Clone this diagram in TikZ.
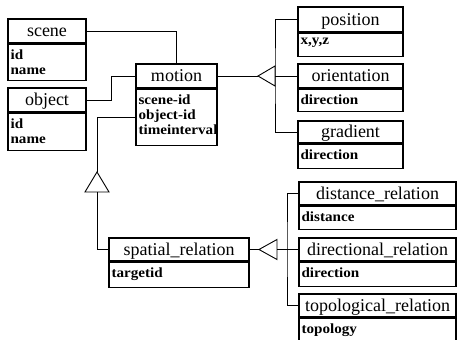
\documentclass[tikz,border=0pt]{standalone}
\usepackage{fontspec}
\setmainfont{Liberation Serif}
\newfontfamily\attrfont{Liberation Serif}[FakeStretch=1.08]
\usetikzlibrary{calc}
\tikzset{
	boxline/.style={line width=1.3pt},
	conn/.style={line width=0.9pt},
	classhead/.style={boxline, draw, inner sep=0pt, text height=12pt, text depth=1pt, font=\fontsize{18}{20}\selectfont},
	classbody/.style={boxline, draw, inner sep=0pt},
	attrtext/.style={inner xsep=3pt, inner ysep=5.5pt, align=left, font=\attrfont\bfseries\fontsize{14}{15}\selectfont}
}
\def\classbox(#1)(#2,#3)(#4,#5)(#6)#7#8{
	\node[classhead, minimum width={#4-#2}, minimum height={#6-#3}] (#1) at ({(#2+#4)/2},{(#3+#6)/2}) {#7};
	\node[classbody, minimum width={#4-#2}, minimum height={#5-#6}, anchor=north] (#1-attr) at (#1.south) {};
	\node[attrtext, anchor=north west] (#1-text) at (#1-attr.north west) {#8};
}

\begin{document}
\begin{tikzpicture}[x=1pt,y=-1pt]
			%%%%% START %%%%%
			\useasboundingbox (0,0) rectangle (458,340);
			\clip (0,0) rectangle (458,340);
			
			\classbox(scene)(8,19)(86,79)(43){scene}{id\\name}
			\classbox(object)(8,88)(86,149)(112){object}{id\\name}
			\classbox(motion)(136,64)(217,144)(88){motion}{scene-id\\object-id\\timeinterval}
			
			\classbox(position)(298,7)(403,55)(32){position}{x,y,z}
			\classbox(orientation)(298,64)(403,110)(88){orientation}{direction}
			\classbox(gradient)(298,121)(403,167)(143){gradient}{direction}
			
			\classbox(spatial)(109,238)(249,286)(261){spatial\_relation}{targetid}
			\classbox(distance)(299,182)(456,228)(205){distance\_relation}{distance}
			\classbox(directional)(299,238)(456,285)(261){directional\_relation}{direction}
			\classbox(topological)(299,294)(456,350)(317){topological\_relation}{topology}
			
			% associations
			\draw[conn] (scene.east) -| (motion.north);
			\draw[conn] (object.east) -- ++(25,0) |- (motion.west);
			
			% motion <- spatial_relation
			\coordinate (tri-a) at (97,172);
			\coordinate (tri-a-base) at (97,192);
			\draw[conn] (motion-attr.west) -| (tri-a);
			\draw[conn] (tri-a) -- (85,192) -- (109,192) -- cycle;
			\draw[conn] (spatial.west) -| (tri-a-base);
			
			% motion <- position, orientation, gradient
			\coordinate (tri-b) at (258,76);
			\coordinate (tri-b-base) at (275,76);
			\draw[conn] (motion.east) -- (tri-b);
			\draw[conn] (tri-b) -- (275,66) -- (275,86) -- cycle;
			\draw[conn] (position.west) -| (tri-b-base) |- (gradient.west);
			\draw[conn] (tri-b-base) -- (orientation.west);
			
			% spatial_relation <- distance, directional, topological
			\coordinate (tri-c) at (259,249.5);
			\coordinate (tri-c-base) at (277,249.5);
			\coordinate (bus-c) at (287,249.5);
			\draw[conn] (spatial.east) -- (tri-c);
			\draw[conn] (tri-c) -- (277,239.5) -- (277,259.5) -- cycle;
			\draw[conn] (tri-c-base) -- (bus-c);
			\draw[conn] (distance.west) -| (bus-c) |- (topological.west);
			\draw[conn] (bus-c) -- (directional.west);
			
			%%%%% END %%%%%
\end{tikzpicture}
\end{document}
